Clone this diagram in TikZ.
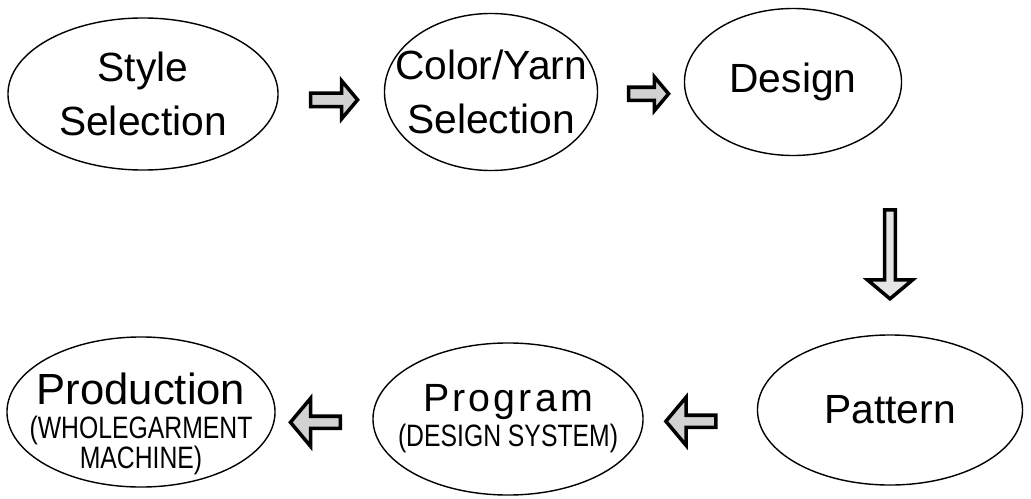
\documentclass[tikz,border=0pt]{standalone}
\usepackage{fontspec}
\setmainfont{Liberation Sans}
\newfontfamily\narrowfont[FakeStretch=0.8]{Liberation Sans}
\newfontfamily\spacedfont[LetterSpace=8]{Liberation Sans}
\newcommand\machfont{\narrowfont\fontsize{22}{24}\selectfont}
\usetikzlibrary{shapes.geometric,shapes.arrows,calc}

\begin{document}
\begin{tikzpicture}[x=0.025cm, y=-0.025cm,
    stage/.style={draw, ellipse, line width=1pt, inner sep=0pt},
    stagetext/.style={align=center, font=\fontsize{29}{39}\selectfont},
    flowarrow/.style={single arrow, draw, line width=2.5pt, fill=gray!35,
      inner sep=0pt, single arrow tip angle=100, yshift=-0.17cm}]
  \useasboundingbox (0,0) rectangle (1031,499);
  % top row
  \node[stage, minimum width=6.75cm, minimum height=3.8cm,
    label={[stagetext]center:{Style\\Selection}}] (style) at (143,94) {};
  \node[stage, minimum width=5.325cm, minimum height=3.925cm,
    label={[stagetext]center:{Color/Yarn\\Selection}}] (color) at (491,92) {};
  \node[stage, minimum width=5.425cm, minimum height=3.675cm,
    label={[stagetext]center:Design}] (design) at (793,82) {};
  % bottom row
  \node[stage, minimum width=6.625cm, minimum height=3.75cm,
    label={[stagetext]center:Pattern}] (pattern) at (890,410) {};
  \node[stage, minimum width=6.75cm, minimum height=3.8cm,
    label={[align=center]center:{{\spacedfont\fontsize{28}{32}\selectfont Program}\\[2pt]{\machfont (DESIGN SYSTEM)}}}] (program) at (508,419) {};
  \node[stage, minimum width=6.7cm, minimum height=3.75cm,
    label={[align=center, yshift=-0.3cm]center:{{\fontsize{31}{36}\selectfont Production}\\[7pt]{\machfont (WHOLEGARMENT}\\{\machfont MACHINE)}}}] (production) at (141,412) {};
  % arrows between the stages
  \coordinate (mid) at ($(design.south)!0.5!(pattern.north)$);
  \node[flowarrow, minimum height=1.175cm, minimum width=0.95cm,
    single arrow head extend=0.08cm] (a1) at ($(style.east)!0.5!(color.west)$) {};
  \node[flowarrow, minimum height=1cm, minimum width=0.85cm,
    single arrow head extend=0.07cm, xshift=0.12cm] (a2) at ($(color.east)!0.5!(design.west)$) {};
  \node[flowarrow, shape border rotate=270, minimum height=2.225cm, minimum width=1.125cm,
    single arrow head extend=0.14cm, fill=gray!20] (a3) at (pattern.north |- mid) {};
  \node[flowarrow, shape border rotate=180, minimum height=1.25cm, minimum width=1.2cm,
    single arrow head extend=0.13cm, xshift=-0.17cm] (a4) at ($(pattern.west)!0.5!(program.east)$) {};
  \node[flowarrow, shape border rotate=180, minimum height=1.25cm, minimum width=1.2cm,
    single arrow head extend=0.13cm, xshift=-0.15cm] (a5) at ($(program.west)!0.5!(production.east)$) {};
\end{tikzpicture}
\end{document}
